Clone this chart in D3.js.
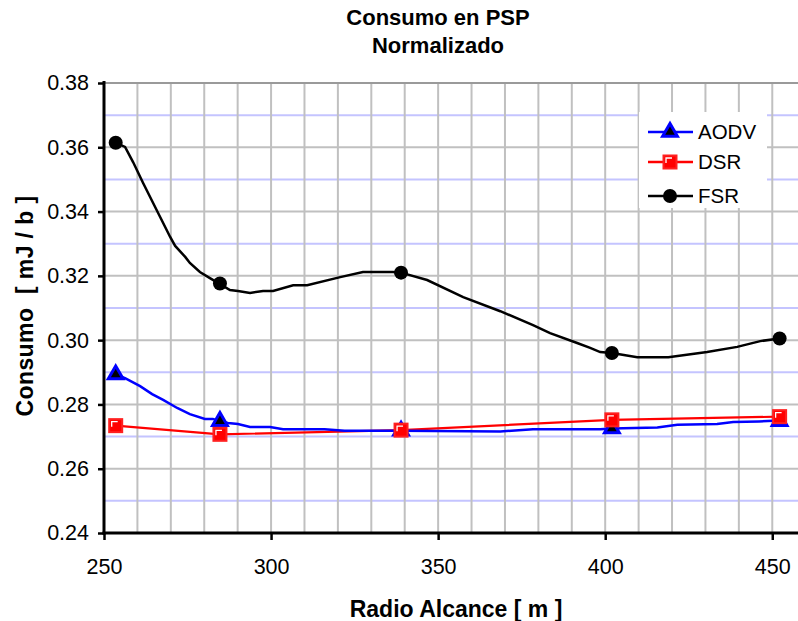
<!DOCTYPE html>
<html>
<head>
<meta charset="utf-8">
<script src="https://cdn.jsdelivr.net/npm/d3@7"></script>
<style>
  body { margin: 0; background: #fff; }
  svg { display: block; font-family: "Liberation Sans", Arial, sans-serif; }
</style>
</head>
<body>
<svg id="chart" width="798" height="621"></svg>
<script>
// marker positions (radio alcance, m) and values per protocol
var radios = [253.5, 284.7, 338.9, 402.0, 452.2];
var aodvMarks = [0.2893, 0.2748, 0.2718, 0.2725, 0.2748];
var dsrMarks = [0.2734, 0.2707, 0.2720, 0.2752, 0.2762];
var fsrMarks = [0.3614, 0.3176, 0.3210, 0.2960, 0.3005];

// smoothed curves
var fsrX = [253.5, 256.3, 258.7, 261.7, 266.8, 269.8, 271.3, 274.3, 275.7, 278.7, 281.7, 284.5, 287.7, 290.1, 293.7, 297.6, 300.6, 306.6, 310.8, 320.7, 327.5, 336.5, 338.9, 346.7, 357.5, 368.6, 378.4, 383.5, 391.6, 395.5, 398.5, 402.0, 409.6, 418.9, 430.5, 439.5, 446.4, 452.2];
var fsrY = [0.3614, 0.3601, 0.3554, 0.3489, 0.3383, 0.3321, 0.3293, 0.3259, 0.3240, 0.3212, 0.3193, 0.3176, 0.3156, 0.3153, 0.3147, 0.3153, 0.3153, 0.3171, 0.3171, 0.3196, 0.3212, 0.3212, 0.3210, 0.3187, 0.3134, 0.3090, 0.3047, 0.3022, 0.2991, 0.2976, 0.2963, 0.2960, 0.2947, 0.2947, 0.2963, 0.2979, 0.2997, 0.3005];
var aodvX = [253.5, 256.3, 260.8, 264.4, 267.7, 271.9, 275.7, 280.2, 282.6, 284.7, 287.1, 290.1, 293.7, 299.7, 303.6, 316.0, 322.0, 338.9, 368.6, 378.4, 398.5, 402.0, 415.6, 421.6, 433.5, 438.3, 446.0, 452.2];
var aodvY = [0.2893, 0.2882, 0.2857, 0.2832, 0.2814, 0.2789, 0.2770, 0.2755, 0.2755, 0.2748, 0.2742, 0.2739, 0.2730, 0.2730, 0.2723, 0.2723, 0.2718, 0.2718, 0.2716, 0.2723, 0.2723, 0.2725, 0.2728, 0.2737, 0.2739, 0.2745, 0.2747, 0.2750];

var xTicks = [250, 300, 350, 400, 450];
var yTicks = [0.24, 0.26, 0.28, 0.30, 0.32, 0.34, 0.36, 0.38];
var yMinor = [0.25, 0.27, 0.29, 0.31, 0.33, 0.35, 0.37];
var xGrid = d3.range(260, 460, 10);
var legendNames = ["AODV", "DSR", "FSR"];

var svg = d3.select("#chart");
var plotL = 104, plotR = 799, plotT = 83, plotB = 533;

var x = d3.scaleLinear().domain([250, 458]).range([plotL, plotR]);
var y = d3.scaleLinear().domain([0.24, 0.38]).range([plotB, plotT]);

// gridlines
var grid = svg.append("g");
grid.selectAll(".minor").data(yMinor).enter().append("line")
    .attr("x1", plotL).attr("x2", 798)
    .attr("y1", function(d){ return y(d); }).attr("y2", function(d){ return y(d); })
    .style("stroke", "#c4c4ff").style("stroke-width", 2);
grid.selectAll(".vgrid").data(xGrid).enter().append("line")
    .attr("x1", function(d){ return x(d); }).attr("x2", function(d){ return x(d); })
    .attr("y1", plotT).attr("y2", plotB)
    .style("stroke", "#c0c0c0").style("stroke-width", 2);
grid.selectAll(".hgrid").data(yTicks.slice(1)).enter().append("line")
    .attr("x1", plotL).attr("x2", 798)
    .attr("y1", function(d){ return y(d); }).attr("y2", function(d){ return y(d); })
    .style("stroke", function(d){ return d === 0.38 ? "#9a9a9a" : "#c0c0c0"; })
    .style("stroke-width", 2);

// axes
var yAxis = svg.append("g").attr("transform", "translate(" + plotL + ",0)")
    .call(d3.axisLeft(y).tickValues(yTicks).tickFormat(d3.format(".2f")).tickSize(6).tickPadding(9));
var xAxis = svg.append("g").attr("transform", "translate(0," + plotB + ")")
    .call(d3.axisBottom(x).tickValues(xTicks).tickSize(7).tickPadding(19));
[yAxis, xAxis].forEach(function(a){
  a.select(".domain").remove();
  a.selectAll(".tick line").style("stroke", "#000").style("stroke-width", 2.5);
  a.selectAll("text").style("font-size", "21.5px").style("fill", "#000")
    .style("font-family", "'Liberation Sans', Arial, sans-serif");
});
svg.append("line").attr("x1", plotL).attr("x2", plotL).attr("y1", plotT - 2).attr("y2", plotB + 1.5)
    .style("stroke", "#000").style("stroke-width", 3);
svg.append("line").attr("x1", plotL - 1.5).attr("x2", 798).attr("y1", plotB).attr("y2", plotB)
    .style("stroke", "#000").style("stroke-width", 3);

// lines
var line = d3.line().x(function(d){ return x(d[0]); }).y(function(d){ return y(d[1]); });
var fsrPts = d3.zip(fsrX, fsrY);
var aodvPts = d3.zip(aodvX, aodvY);
var dsrPts = d3.zip(radios, dsrMarks);

svg.append("path").datum(dsrPts).attr("d", line)
    .style("fill", "none").style("stroke", "#ff0000").style("stroke-width", 2.2);
svg.append("path").datum(aodvPts).attr("d", line)
    .style("fill", "none").style("stroke", "#0000ff").style("stroke-width", 2.5);
svg.append("path").datum(fsrPts).attr("d", line)
    .style("fill", "none").style("stroke", "#000").style("stroke-width", 2.5);

// markers
function triangle(g, cx, cy){
  g.append("path").attr("d", d3.symbol().type(d3.symbolTriangle).size(95)())
    .attr("transform", "translate(" + cx + "," + cy + ")")
    .style("fill", "#000").style("stroke", "#0000ff").style("stroke-width", 3);
}
function square(g, cx, cy){
  g.append("rect").attr("x", cx - 6.5).attr("y", cy - 6.5).attr("width", 13).attr("height", 13)
    .style("fill", "#ff0000").style("stroke", "#ff2020").style("stroke-width", 2);
  g.append("path").attr("d", "M" + (cx - 4) + "," + (cy + 1) + "V" + (cy - 4) + "H" + (cx + 2))
    .style("fill", "none").style("stroke", "#fff").style("stroke-width", 1.3);
}
function dot(g, cx, cy){
  g.append("circle").attr("cx", cx).attr("cy", cy).attr("r", 7).style("fill", "#000");
}

var marks = svg.append("g");
radios.forEach(function(r, i){ triangle(marks, x(r), y(aodvMarks[i])); });
radios.forEach(function(r, i){ square(marks, x(r), y(dsrMarks[i])); });
radios.forEach(function(r, i){ dot(marks, x(r), y(fsrMarks[i])); });

// legend
var legend = svg.append("g").attr("transform", "translate(639,112)");
legend.append("rect").attr("width", 128).attr("height", 96).style("fill", "#fff");
var legendColors = ["#0000ff", "#ff0000", "#000"];
var legendDraw = [triangle, square, dot];
var legendY = [20, 50, 84];
legendNames.forEach(function(name, i){
  legend.append("line").attr("x1", 9).attr("x2", 54).attr("y1", legendY[i]).attr("y2", legendY[i])
      .style("stroke", legendColors[i]).style("stroke-width", 2.5);
  legendDraw[i](legend, 31, legendY[i]);
  legend.append("text").attr("x", 59).attr("y", legendY[i] + 7).text(name)
      .style("font-size", "20.5px");
});

// titles
var title = svg.append("text").attr("text-anchor", "middle").style("font-weight", "bold").style("font-size", "22px");
title.append("tspan").attr("x", 438).attr("y", 25).text("Consumo en PSP");
title.append("tspan").attr("x", 438).attr("y", 53).text("Normalizado");

svg.append("text").attr("x", 456).attr("y", 617).attr("text-anchor", "middle")
    .style("font-weight", "bold").style("font-size", "23px").text("Radio Alcance [ m ]");

svg.append("text").attr("transform", "translate(33,306) rotate(-90)").attr("text-anchor", "middle")
    .style("font-weight", "bold").style("font-size", "23px").style("letter-spacing", "0.4px")
    .attr("xml:space", "preserve").text("Consumo  [ mJ / b ]");
</script>
</body>
</html>
